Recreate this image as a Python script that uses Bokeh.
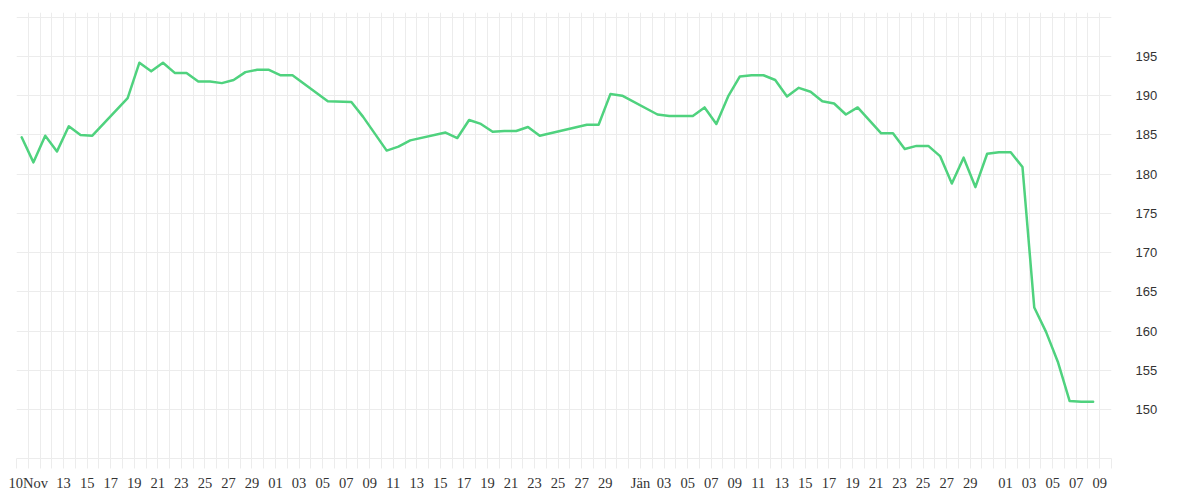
from datetime import date
from bokeh.plotting import figure
from bokeh.models import Range1d, FixedTicker, ColumnDataSource
from bokeh.embed import file_html
from bokeh.resources import INLINE

# ---- data ----
dates = [
    "2017-11-09", "2017-11-10", "2017-11-11", "2017-11-12", "2017-11-13", "2017-11-14", "2017-11-15",
    "2017-11-18", "2017-11-19", "2017-11-20", "2017-11-21", "2017-11-22", "2017-11-23", "2017-11-24",
    "2017-11-25", "2017-11-26", "2017-11-27", "2017-11-28", "2017-11-29", "2017-11-30",
    "2017-12-01", "2017-12-02", "2017-12-05", "2017-12-07", "2017-12-08", "2017-12-10", "2017-12-11",
    "2017-12-12", "2017-12-15", "2017-12-16", "2017-12-17", "2017-12-18", "2017-12-19", "2017-12-20",
    "2017-12-21", "2017-12-22", "2017-12-23", "2017-12-27", "2017-12-28", "2017-12-29", "2017-12-30",
    "2018-01-02", "2018-01-03", "2018-01-04", "2018-01-05", "2018-01-06", "2018-01-07", "2018-01-08",
    "2018-01-09", "2018-01-10", "2018-01-11", "2018-01-12", "2018-01-13", "2018-01-14", "2018-01-15",
    "2018-01-16", "2018-01-17", "2018-01-18", "2018-01-19", "2018-01-21", "2018-01-22", "2018-01-23",
    "2018-01-24", "2018-01-25", "2018-01-26", "2018-01-27", "2018-01-28", "2018-01-29", "2018-01-30",
    "2018-01-31", "2018-02-01", "2018-02-02", "2018-02-03", "2018-02-04", "2018-02-05", "2018-02-06",
    "2018-02-07", "2018-02-08",
]
values = [
    184.7, 181.5, 184.9, 182.9, 186.1, 185.0, 184.9,
    189.7, 194.2, 193.1, 194.2, 192.9, 192.9, 191.8,
    191.8, 191.6, 192.0, 193.0, 193.3, 193.3,
    192.6, 192.6, 189.3, 189.2, 187.3, 183.0, 183.5,
    184.3, 185.3, 184.6, 186.9, 186.4, 185.4, 185.5,
    185.5, 186.0, 184.9, 186.3, 186.3, 190.2, 190.0,
    187.6, 187.4, 187.4, 187.4, 188.5, 186.4, 189.9,
    192.45, 192.6, 192.6, 192.0, 189.9, 191.0, 190.5,
    189.3, 189.0, 187.6, 188.5, 185.2, 185.2, 183.2,
    183.6, 183.6, 182.3, 178.8, 182.1, 178.35, 182.6,
    182.8, 182.8, 180.9, 163.0, 159.9, 156.1, 151.1,
    151.0, 151.0,
]
tick_dates = [
    "2017-11-10", "2017-11-13", "2017-11-15", "2017-11-17", "2017-11-19", "2017-11-21", "2017-11-23",
    "2017-11-25", "2017-11-27", "2017-11-29",
    "2017-12-01", "2017-12-03", "2017-12-05", "2017-12-07", "2017-12-09", "2017-12-11", "2017-12-13",
    "2017-12-15", "2017-12-17", "2017-12-19", "2017-12-21", "2017-12-23", "2017-12-25", "2017-12-27",
    "2017-12-29",
    "2018-01-01", "2018-01-03", "2018-01-05", "2018-01-07", "2018-01-09", "2018-01-11", "2018-01-13",
    "2018-01-15", "2018-01-17", "2018-01-19", "2018-01-21", "2018-01-23", "2018-01-25", "2018-01-27",
    "2018-01-29",
    "2018-02-01", "2018-02-03", "2018-02-05", "2018-02-07", "2018-02-09",
]
tick_labels = [
    "10Nov", "13", "15", "17", "19", "21", "23", "25", "27", "29",
    "01", "03", "05", "07", "09", "11", "13", "15", "17", "19", "21", "23", "25", "27", "29",
    "Jän", "03", "05", "07", "09", "11", "13", "15", "17", "19", "21", "23", "25", "27", "29",
    "01", "03", "05", "07", "09",
]
y_ticks = [150, 155, 160, 165, 170, 175, 180, 185, 190, 195, 200]
y_labels = ["150", "155", "160", "165", "170", "175", "180", "185", "190", "195", ""]

start = date(2017, 11, 9)
end = date(2018, 2, 10)
TIME_OF_DAY = 0.44


def day_of(s):
    return (date.fromisoformat(s) - start).days


xs = [day_of(d) + TIME_OF_DAY for d in dates]
n_days = (end - start).days
src = ColumnDataSource(dict(x=xs, y=values))

p = figure(
    frame_width=1095, frame_height=446,
    x_range=Range1d(0, n_days), y_range=Range1d(143.76, 200.6),
    y_axis_location="right",
    output_backend="svg", toolbar_location=None,
    min_border_left=16, min_border_top=12, min_border_right=60, min_border_bottom=10,
    background_fill_color="white", border_fill_color="white",
)
p.outline_line_color = None

p.line("x", "y", source=src, line_color="#4fd27e", line_width=2.5,
       line_join="round", line_cap="round")

GRID = "#ececec"

# x axis
xa = p.xaxis[0]
xa.ticker = FixedTicker(ticks=list(range(0, n_days + 1)), minor_ticks=[])
label_map = {day_of(d): lab for d, lab in zip(tick_dates, tick_labels)}
xa.major_label_overrides = {i: label_map.get(i, "") for i in range(0, n_days + 1)}
xa.axis_line_color = GRID
xa.major_tick_line_color = GRID
xa.major_tick_out = 10
xa.major_tick_in = 0
xa.minor_tick_line_color = None
xa.major_label_standoff = 6
xa.major_label_text_font = "Liberation Serif"
xa.major_label_text_font_size = "14.5px"
xa.major_label_text_color = "#333333"

# y axis
ya = p.yaxis[0]
ya.ticker = FixedTicker(ticks=y_ticks, minor_ticks=[])
ya.major_label_overrides = {t: lab for t, lab in zip(y_ticks, y_labels)}
ya.axis_line_color = None
ya.major_tick_line_color = None
ya.minor_tick_line_color = None
ya.major_tick_out = 0
ya.major_tick_in = 0
ya.major_label_standoff = 24
ya.major_label_text_font = "Liberation Sans"
ya.major_label_text_font_size = "13px"
ya.major_label_text_color = "#333333"

p.xgrid.grid_line_color = GRID
p.ygrid.grid_line_color = GRID
p.xgrid.grid_line_width = 1
p.ygrid.grid_line_width = 1

open("out.html", "w").write(file_html(p, INLINE))
